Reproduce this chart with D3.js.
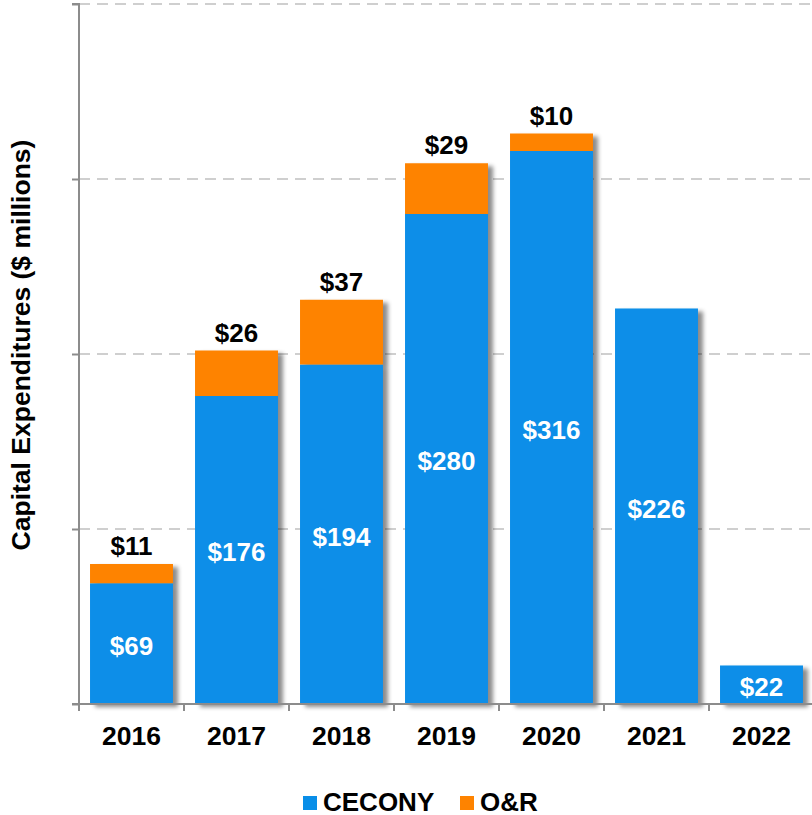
<!DOCTYPE html>
<html>
<head>
<meta charset="utf-8">
<script src="https://cdn.jsdelivr.net/npm/d3@7"></script>
<style>
  html, body { margin: 0; padding: 0; background: #fff; }
  svg { display: block; font-family: Arial, "Liberation Sans", sans-serif; }
</style>
</head>
<body>
<svg id="chart" width="812" height="815"></svg>
<script>
// Capital expenditures by year, $ millions
const years = ["2016", "2017", "2018", "2019", "2020", "2021", "2022"];
const ceconyValues = [69, 176, 194, 280, 316, 226, 22];
const orValues = [11, 26, 37, 29, 10, 0, 0];
const seriesNames = ["CECONY", "O&R"];
const seriesColors = ["#098EE8", "#FE8300"];
const yTicks = [0, 100, 200, 300, 400];

const svg = d3.select("#chart");
const W = 812, H = 815;
const margin = { left: 79, right: -2, top: 4, bottom: 111 };

const x = d3.scaleBand()
  .domain(years)
  .range([margin.left, W - margin.right])
  .paddingInner(0.21)
  .paddingOuter(0.105);

const y = d3.scaleLinear()
  .domain([0, 400])
  .range([H - margin.bottom, margin.top]);

// soft shadow behind the bars
const defs = svg.append("defs");
const f = defs.append("filter").attr("id", "barShadow")
  .attr("x", "-10%").attr("y", "-10%").attr("width", "130%").attr("height", "130%");
f.append("feDropShadow")
  .attr("dx", 5).attr("dy", 3).attr("stdDeviation", 2)
  .attr("flood-color", "#000").attr("flood-opacity", 0.45);

// dashed gridlines
svg.append("g")
  .selectAll("line")
  .data(yTicks.filter(d => d > 0))
  .join("line")
  .attr("x1", margin.left).attr("x2", W)
  .attr("y1", d => y(d)).attr("y2", d => y(d))
  .attr("stroke", "#cfcfcf")
  .attr("stroke-width", 2)
  .attr("stroke-dasharray", "11,7");

// stacked data
const rows = years.map((yr, i) => ({ year: yr, CECONY: ceconyValues[i], "O&R": orValues[i] }));
const stacked = d3.stack().keys(seriesNames)(rows);

const barsG = svg.append("g").attr("filter", "url(#barShadow)");
barsG.selectAll("g")
  .data(stacked)
  .join("g")
  .attr("fill", (d, i) => seriesColors[i])
  .selectAll("rect")
  .data(d => d.filter(s => s[1] - s[0] > 0))
  .join("rect")
  .attr("x", d => x(d.data.year))
  .attr("width", x.bandwidth())
  .attr("y", d => y(d[1]))
  .attr("height", d => y(d[0]) - y(d[1]));

// y axis: line with small outward ticks, no labels
const yAxis = d3.axisLeft(y).tickValues(yTicks).tickSize(7).tickFormat("");
const yg = svg.append("g").attr("transform", `translate(${margin.left},0)`).call(yAxis);
yg.selectAll("path, line").attr("stroke", "#8c8c8c").attr("stroke-width", 2);
yg.select(".domain").attr("d", `M-7,${y(400)}H0V${y(0)}H-7`);

// x axis with ticks between categories
const xg = svg.append("g").attr("transform", `translate(0,${y(0)})`);
xg.append("line")
  .attr("x1", margin.left - 7).attr("x2", W)
  .attr("y1", 0).attr("y2", 0)
  .attr("stroke", "#8c8c8c").attr("stroke-width", 2);
const step = x.step();
const boundaries = years.map(yr => x(yr) - (step - x.bandwidth()) / 2);
xg.selectAll("line.tick")
  .data(boundaries)
  .join("line")
  .attr("class", "tick")
  .attr("x1", d => d).attr("x2", d => d)
  .attr("y1", 0).attr("y2", 7)
  .attr("stroke", "#8c8c8c").attr("stroke-width", 2);
xg.selectAll("text")
  .data(years)
  .join("text")
  .attr("x", d => x(d) + x.bandwidth() / 2)
  .attr("y", 40.5)
  .attr("text-anchor", "middle")
  .attr("font-size", 26.5)
  .attr("font-weight", "bold")
  .attr("fill", "#000")
  .text(d => d);

// CECONY labels inside bars
svg.append("g")
  .selectAll("text")
  .data(rows)
  .join("text")
  .attr("x", d => x(d.year) + x.bandwidth() / 2)
  .attr("y", d => y(d.CECONY / 2))
  .attr("dy", "0.44em")
  .attr("text-anchor", "middle")
  .attr("font-size", 26)
  .attr("font-weight", "bold")
  .attr("fill", "#fff")
  .text(d => "$" + d.CECONY);

// O&R labels above bars
svg.append("g")
  .selectAll("text")
  .data(rows.filter(d => d["O&R"] > 0))
  .join("text")
  .attr("x", d => x(d.year) + x.bandwidth() / 2)
  .attr("y", d => y(d.CECONY + d["O&R"]) - 9)
  .attr("text-anchor", "middle")
  .attr("font-size", 26)
  .attr("font-weight", "bold")
  .attr("fill", "#000")
  .text(d => "$" + d["O&R"]);

// y axis title
svg.append("text")
  .attr("transform", `translate(30,${345}) rotate(-90)`)
  .attr("text-anchor", "middle")
  .attr("font-size", 26.5)
  .attr("font-weight", "bold")
  .attr("fill", "#000")
  .text("Capital Expenditures ($ millions)");

// legend
const legend = svg.append("g");
const legendItems = [
  { name: seriesNames[0], color: seriesColors[0], x: 303 },
  { name: seriesNames[1], color: seriesColors[1], x: 460 }
];
const lg = legend.selectAll("g").data(legendItems).join("g")
  .attr("transform", d => `translate(${d.x},796)`);
lg.append("rect").attr("width", 14).attr("height", 14).attr("fill", d => d.color);
lg.append("text")
  .attr("x", 20).attr("y", 15)
  .attr("font-size", 26)
  .attr("font-weight", "bold")
  .attr("fill", "#000")
  .text(d => d.name);
</script>
</body>
</html>
